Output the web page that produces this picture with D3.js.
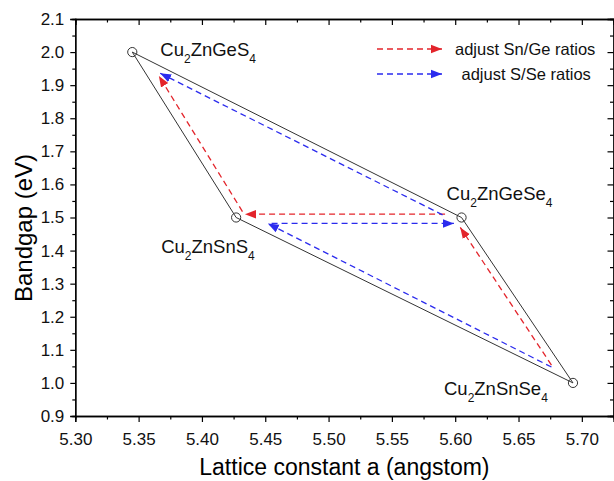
<!DOCTYPE html>
<html>
<head>
<meta charset="utf-8">
<script src="https://cdn.jsdelivr.net/npm/d3@7"></script>
<style>
  body { margin: 0; background: #fff; }
  svg { font-family: Arial, "Liberation Sans", sans-serif; }
</style>
</head>
<body>
<div id="chart"></div>
<script>
// compounds: lattice constant (angstrom) vs bandgap (eV)
const compounds = ["Cu2ZnGeS4", "Cu2ZnSnS4", "Cu2ZnGeSe4", "Cu2ZnSnSe4"];
const lattice = [5.345, 5.427, 5.605, 5.693];
const bandgap = [2.0, 1.5, 1.5, 1.0];

// outline order of the quadrilateral
const outline = ["Cu2ZnGeS4", "Cu2ZnGeSe4", "Cu2ZnSnSe4", "Cu2ZnSnS4", "Cu2ZnGeS4"];

// dashed arrows [x1, y1, x2, y2]
const snGeArrows = [
  [5.676, 1.054, 5.604, 1.470],
  [5.592, 1.510, 5.434, 1.510],
  [5.432, 1.518, 5.366, 1.928]
];
const sSeArrows = [
  [5.676, 1.048, 5.452, 1.482],
  [5.455, 1.482, 5.599, 1.482],
  [5.590, 1.508, 5.367, 1.936]
];

const xTicks = [5.30, 5.35, 5.40, 5.45, 5.50, 5.55, 5.60, 5.65, 5.70];
const yTicks = [0.9, 1.0, 1.1, 1.2, 1.3, 1.4, 1.5, 1.6, 1.7, 1.8, 1.9, 2.0, 2.1];

const width = 614, height = 481;
const margin = { left: 75.3, right: 0.5, top: 19, bottom: 65 };

const red = "#e3242b", blue = "#2b2bee";

const svg = d3.select("#chart").append("svg")
  .attr("width", width).attr("height", height);

const x = d3.scaleLinear().domain([5.30, 5.725]).range([margin.left, width - margin.right]);
const y = d3.scaleLinear().domain([0.9, 2.1]).range([height - margin.bottom, margin.top]);

const defs = svg.append("defs");
[["red", red], ["blue", blue]].forEach(([id, c]) => {
  defs.append("marker")
    .attr("id", "arrow-" + id)
    .attr("viewBox", "0 -5 11 10")
    .attr("refX", 11).attr("refY", 0)
    .attr("markerUnits", "userSpaceOnUse")
    .attr("markerWidth", 11).attr("markerHeight", 10)
    .attr("orient", "auto")
    .append("path")
    .attr("d", "M0,-4.2L11,0L0,4.2Z")
    .attr("fill", c);
});

// axes
const minorX = d3.range(5.325, 5.725, 0.05);
const minorY = d3.range(0.95, 2.1, 0.1);

function tickStyle(g) {
  g.select(".domain").attr("stroke", "#000").attr("stroke-width", 1.3);
  g.selectAll(".tick line").attr("stroke", "#000").attr("stroke-width", 1.2);
  g.selectAll(".tick text").attr("fill", "#111").style("font-size", "17px");
}

svg.append("g")
  .attr("transform", `translate(0,${y(0.9)})`)
  .call(d3.axisBottom(x).tickValues(xTicks).tickFormat(d3.format(".2f")).tickSize(6).tickPadding(11))
  .call(tickStyle);
svg.append("g")
  .attr("transform", `translate(0,${y(0.9)})`)
  .call(d3.axisBottom(x).tickValues(minorX).tickFormat("").tickSize(3.5))
  .call(tickStyle);

svg.append("g")
  .attr("transform", `translate(${x(5.30)},0)`)
  .call(d3.axisLeft(y).tickValues(yTicks).tickFormat(d3.format(".1f")).tickSize(5).tickPadding(6))
  .call(tickStyle);
svg.append("g")
  .attr("transform", `translate(${x(5.30)},0)`)
  .call(d3.axisLeft(y).tickValues(minorY).tickFormat("").tickSize(3))
  .call(tickStyle);

// mirrored top / right with inward ticks
svg.append("g")
  .attr("transform", `translate(0,${y(2.1)})`)
  .call(d3.axisBottom(x).tickValues(xTicks).tickFormat("").tickSize(6))
  .call(tickStyle);
svg.append("g")
  .attr("transform", `translate(0,${y(2.1)})`)
  .call(d3.axisBottom(x).tickValues(minorX).tickFormat("").tickSize(3.5))
  .call(tickStyle);
svg.append("g")
  .attr("transform", `translate(${x(5.725)},0)`)
  .call(d3.axisLeft(y).tickValues(yTicks).tickFormat("").tickSize(6))
  .call(tickStyle);
svg.append("g")
  .attr("transform", `translate(${x(5.725)},0)`)
  .call(d3.axisLeft(y).tickValues(minorY).tickFormat("").tickSize(3.5))
  .call(tickStyle);

// axis titles
svg.append("text")
  .attr("x", (x(5.30) + x(5.725)) / 2).attr("y", 475)
  .attr("text-anchor", "middle")
  .style("font-size", "23px")
  .text("Lattice constant a (angstom)");

svg.append("text")
  .attr("transform", `translate(31.5,${228}) rotate(-90)`)
  .attr("text-anchor", "middle")
  .style("font-size", "24px")
  .text("Bandgap (eV)");

// outline
const pts = compounds.map((c, i) => ({ name: c, x: lattice[i], y: bandgap[i] }));
const byName = Object.fromEntries(pts.map((p) => [p.name, p]));

svg.append("path")
  .datum(outline.map((n) => byName[n]))
  .attr("fill", "none")
  .attr("stroke", "#333")
  .attr("stroke-width", 1)
  .attr("d", d3.line().x((d) => x(d.x)).y((d) => y(d.y)));

// dashed arrows
function drawArrows(data, color, id) {
  svg.append("g").selectAll("line")
    .data(data)
    .join("line")
    .attr("x1", (d) => x(d[0])).attr("y1", (d) => y(d[1]))
    .attr("x2", (d) => x(d[2])).attr("y2", (d) => y(d[3]))
    .attr("stroke", color)
    .attr("stroke-width", 1.3)
    .attr("stroke-dasharray", "6,4")
    .attr("marker-end", `url(#arrow-${id})`);
}
drawArrows(snGeArrows, red, "red");
drawArrows(sSeArrows, blue, "blue");

// points
svg.append("g").selectAll("circle")
  .data(pts)
  .join("circle")
  .attr("cx", (d) => x(d.x)).attr("cy", (d) => y(d.y))
  .attr("r", 4.6)
  .attr("fill", "none")
  .attr("stroke", "#333")
  .attr("stroke-width", 1);

// labels: offsets from the point in px
const labelOffsets = {
  "Cu2ZnGeS4": [28, 4],
  "Cu2ZnSnS4": [-75, 35],
  "Cu2ZnGeSe4": [-15, -18],
  "Cu2ZnSnSe4": [-129, 12]
};
const labelParts = {
  "Cu2ZnGeS4": ["Cu", "2", "ZnGeS", "4"],
  "Cu2ZnSnS4": ["Cu", "2", "ZnSnS", "4"],
  "Cu2ZnGeSe4": ["Cu", "2", "ZnGeSe", "4"],
  "Cu2ZnSnSe4": ["Cu", "2", "ZnSnSe", "4"]
};

pts.forEach((p) => {
  const [dx, dy] = labelOffsets[p.name];
  const parts = labelParts[p.name];
  const t = svg.append("text")
    .attr("x", x(p.x) + dx).attr("y", y(p.y) + dy)
    .style("font-size", "18.5px")
    .attr("fill", "#111");
  t.append("tspan").text(parts[0]);
  t.append("tspan").attr("dy", 7).style("font-size", "12px").text(parts[1]);
  t.append("tspan").attr("dy", -7).text(parts[2]);
  t.append("tspan").attr("dy", 7).style("font-size", "12px").text(parts[3]);
});

// legend
const legend = [
  { label: "adjust Sn/Ge ratios", color: red, id: "red", tx: 455 },
  { label: "adjust S/Se ratios", color: blue, id: "blue", tx: 461.5 }
];
const lg = svg.append("g");
legend.forEach((d, i) => {
  const ly = 49 + i * 25;
  lg.append("line")
    .attr("x1", 377).attr("x2", 442)
    .attr("y1", ly).attr("y2", ly)
    .attr("stroke", d.color)
    .attr("stroke-width", 1.3)
    .attr("stroke-dasharray", "6,4")
    .attr("marker-end", `url(#arrow-${d.id})`);
  lg.append("text")
    .attr("x", d.tx).attr("y", ly + 5.5)
    .style("font-size", "16.5px")
    .attr("fill", "#111")
    .text(d.label);
});
</script>
</body>
</html>
